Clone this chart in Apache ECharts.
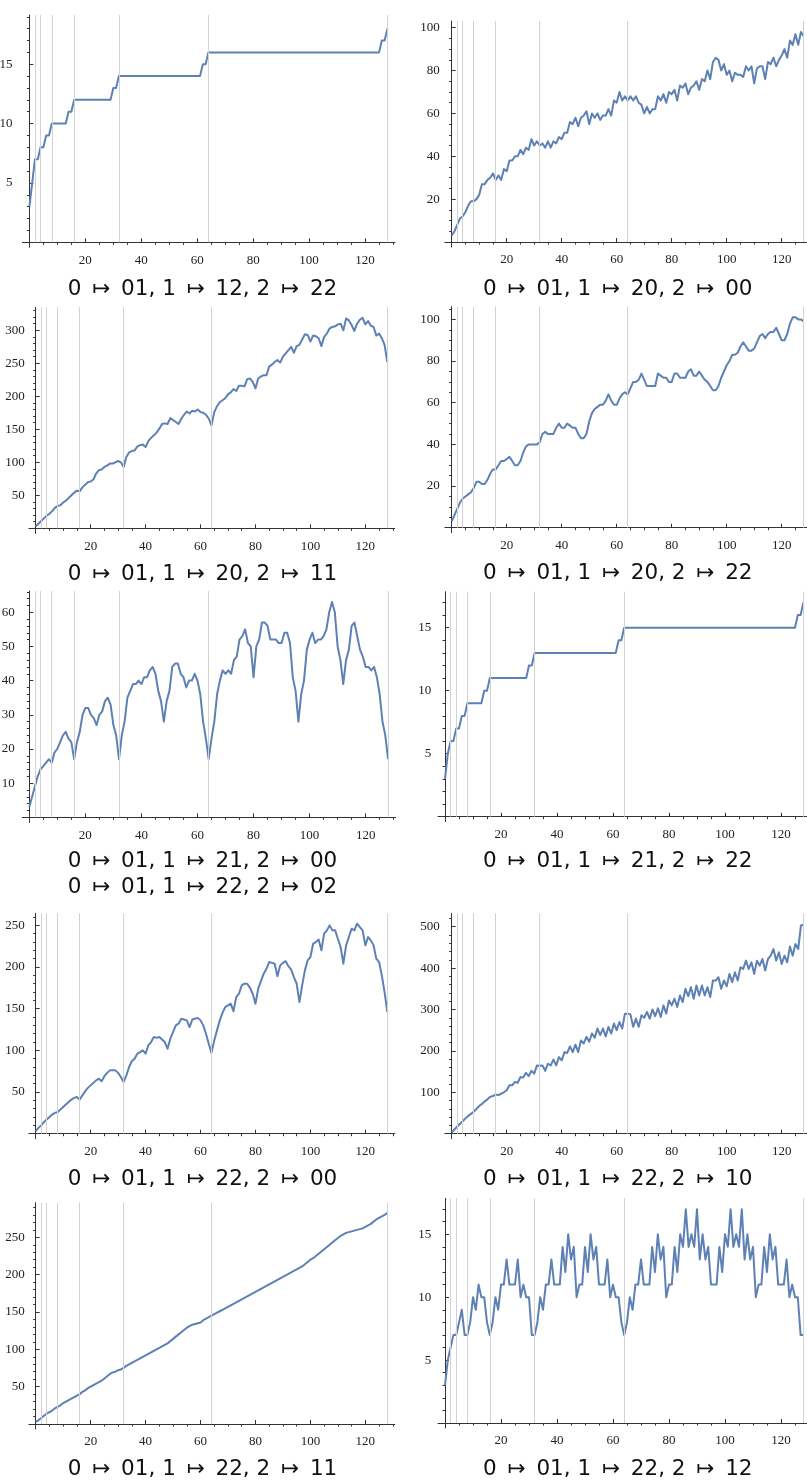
<!DOCTYPE html>
<html>
<head>
<meta charset="utf-8">
<script src="https://cdn.jsdelivr.net/npm/echarts@6/dist/echarts.min.js"></script>
<style>
html,body{margin:0;padding:0;background:#ffffff;}
#c{width:807px;height:1481px;}
</style>
</head>
<body>
<div id="c"></div>
<script>
// ---------------- DATA ----------------
const titles = [
  ['0 ↦ 01, 1 ↦ 12, 2 ↦ 22'],
  ['0 ↦ 01, 1 ↦ 20, 2 ↦ 00'],
  ['0 ↦ 01, 1 ↦ 20, 2 ↦ 11'],
  ['0 ↦ 01, 1 ↦ 20, 2 ↦ 22'],
  ['0 ↦ 01, 1 ↦ 21, 2 ↦ 00', '0 ↦ 01, 1 ↦ 22, 2 ↦ 02'],
  ['0 ↦ 01, 1 ↦ 21, 2 ↦ 22'],
  ['0 ↦ 01, 1 ↦ 22, 2 ↦ 00'],
  ['0 ↦ 01, 1 ↦ 22, 2 ↦ 10'],
  ['0 ↦ 01, 1 ↦ 22, 2 ↦ 11'],
  ['0 ↦ 01, 1 ↦ 22, 2 ↦ 12']
];

// values for n = 0 .. 128
const s1 = [
3,5,7,7,8,8,9,9,10,10,
10,10,10,10,11,11,12,12,12,12,
12,12,12,12,12,12,12,12,12,12,
13,13,14,14,14,14,14,14,14,14,
14,14,14,14,14,14,14,14,14,14,
14,14,14,14,14,14,14,14,14,14,
14,14,15,15,16,16,16,16,16,16,
16,16,16,16,16,16,16,16,16,16,
16,16,16,16,16,16,16,16,16,16,
16,16,16,16,16,16,16,16,16,16,
16,16,16,16,16,16,16,16,16,16,
16,16,16,16,16,16,16,16,16,16,
16,16,16,16,16,16,17,17,18];

const s2 = [
3,5,8,11,12,14,17,19,19,20,
22,27,27,29,30,32,29,31,29,34,
33,38,38,40,40,43,41,44,43,48,
45,47,45,46,44,47,44,47,46,49,
48,51,51,56,55,58,54,58,59,61,
55,60,58,60,57,59,59,62,59,66,
65,70,66,68,66,68,66,68,65,64,
60,63,60,62,62,68,66,69,65,70,
69,71,66,73,72,74,69,72,73,75,
71,76,75,80,76,84,86,85,80,83,
78,80,75,79,78,78,77,82,80,82,
74,81,82,82,76,84,83,86,82,85,
87,90,86,94,92,97,92,98,96];

const s3 = [
3,7,11,15,19,22,26,31,34,35,
39,42,46,50,54,57,56,62,66,70,
71,74,83,88,89,93,95,98,98,100,
102,100,93,108,115,117,118,124,126,127,
123,132,137,141,145,151,158,159,158,167,
164,161,158,166,172,177,174,178,177,180,
176,175,172,166,156,176,185,191,194,197,
203,206,211,208,216,216,215,226,227,222,
212,227,230,232,232,245,248,252,255,251,
260,265,270,275,266,276,278,286,294,293,
283,292,291,288,276,290,295,303,305,306,
309,310,300,318,315,308,299,310,316,319,
309,314,307,305,292,295,288,278,252];

const s4 = [
3,6,9,12,14,15,16,17,19,22,
22,21,21,23,26,28,28,30,32,32,
33,34,32,30,30,32,36,39,40,40,
40,40,41,45,46,45,45,45,48,50,
48,48,50,49,48,48,45,43,43,45,
51,55,57,58,59,59,61,64,61,59,
59,62,64,65,64,67,70,70,71,74,
71,68,68,68,68,74,73,72,72,70,
70,74,74,72,72,72,75,76,73,73,
75,73,71,70,68,66,66,68,72,75,
78,80,83,83,84,87,89,87,85,85,
86,89,92,93,91,93,94,94,96,93,
90,90,93,98,101,101,100,100,99];

const s5 = [
3,6,9,12,14,15,16,17,16,19,
20,22,24,25,23,22,17,22,25,30,
32,32,30,29,27,30,31,34,35,33,
27,24,17,24,28,35,37,39,39,40,
39,41,41,43,44,42,37,34,28,34,
37,44,45,45,42,41,38,40,40,42,
40,36,28,23,17,23,28,36,40,43,
42,43,42,46,47,52,53,55,51,50,
41,50,52,57,57,56,52,52,52,51,
51,54,54,51,41,37,28,36,40,49,
52,54,51,52,52,53,55,60,63,60,
50,46,39,46,49,56,57,53,49,47,
44,44,43,44,41,36,28,24,17];

const s6 = [
3,5,6,6,7,7,8,8,9,9,
9,9,9,9,10,10,11,11,11,11,
11,11,11,11,11,11,11,11,11,11,
12,12,13,13,13,13,13,13,13,13,
13,13,13,13,13,13,13,13,13,13,
13,13,13,13,13,13,13,13,13,13,
13,13,14,14,15,15,15,15,15,15,
15,15,15,15,15,15,15,15,15,15,
15,15,15,15,15,15,15,15,15,15,
15,15,15,15,15,15,15,15,15,15,
15,15,15,15,15,15,15,15,15,15,
15,15,15,15,15,15,15,15,15,15,
15,15,15,15,15,15,16,16,17];

const s7 = [
3,7,10,14,17,20,23,25,26,29,
32,35,38,41,43,44,41,46,51,55,
58,61,64,66,63,69,73,76,76,76,
73,68,62,70,80,87,90,96,98,100,
96,106,110,116,115,116,113,110,102,114,
122,130,132,138,137,136,128,137,138,139,
136,130,120,108,97,112,124,136,145,152,
154,156,147,164,168,178,180,180,175,168,
156,174,183,192,198,206,205,204,189,202,
205,207,201,197,188,180,158,178,196,208,
212,228,230,233,220,240,244,250,244,244,
234,224,204,226,236,246,244,252,248,244,
226,236,232,226,210,206,190,170,146];

const s8 = [
3,10,17,24,30,37,43,48,53,60,
67,72,78,83,89,91,95,93,97,100,
105,117,117,125,123,137,136,147,139,152,
145,165,164,165,152,169,165,179,165,185,
177,197,195,211,197,215,197,225,218,234,
222,242,232,254,238,254,235,258,242,266,
250,270,254,290,290,288,258,278,258,286,
280,294,278,300,284,303,282,310,290,322,
310,326,306,334,318,350,332,354,326,358,
334,358,334,354,330,370,370,378,350,370,
356,386,366,390,370,402,398,418,398,414,
386,418,406,422,394,422,430,446,418,438,
410,430,414,452,430,458,446,503,505];

const s9 = [
3,5,8,11,14,16,18,21,23,25,
28,30,32,34,36,38,40,43,45,48,
50,52,54,56,58,61,64,67,69,70,
72,73,75,78,80,82,84,86,88,90,
92,94,96,98,100,102,104,106,108,111,
114,117,120,123,126,129,131,133,134,135,
136,139,141,143,145,147,149,151,153,155,
157,159,161,163,165,167,169,171,173,175,
177,179,181,183,185,187,189,191,193,195,
197,199,201,203,205,207,209,211,214,217,
220,222,225,228,231,234,237,240,243,246,
249,252,254,256,257,258,259,260,261,262,
264,266,268,271,274,276,278,280,283];

const s10 = [
3,5,6,7,7,8,9,7,7,8,
10,9,11,10,10,8,7,8,10,9,
11,11,13,11,11,11,13,10,11,10,
10,7,7,8,10,9,11,11,13,11,
11,11,14,12,15,13,14,10,11,11,
14,12,15,13,14,11,11,11,13,10,
11,10,10,8,7,8,10,9,11,11,
13,11,11,11,14,12,15,13,14,10,
11,11,14,12,15,14,17,14,15,14,
17,13,15,13,14,11,11,11,14,12,
15,14,17,14,15,14,17,13,15,13,
14,10,11,11,14,12,15,13,14,11,
11,11,13,10,11,10,10,7,7];

const seriesValues = [s1, s2, s3, s4, s5, s6, s7, s8, s9, s10];

// tick labels
const xTickLabels = [20, 40, 60, 80, 100, 120];
const xMinorTicks = [5,10,15,25,30,35,45,50,55,65,70,75,85,90,95,105,110,115,125,130];
const yTickLabels = [
  [5, 10, 15],
  [20, 40, 60, 80, 100],
  [50, 100, 150, 200, 250, 300],
  [20, 40, 60, 80, 100],
  [10, 20, 30, 40, 50, 60],
  [5, 10, 15],
  [50, 100, 150, 200, 250],
  [100, 200, 300, 400, 500],
  [50, 100, 150, 200, 250],
  [5, 10, 15]
];
const yMinorStep = [1, 5, 10, 5, 2, 1, 10, 20, 10, 1];
const guideX = [2, 4, 8, 16, 32, 64, 128];

// ---------------- LAYOUT (pixels) ----------------
const geo = [
  {x0: 29.4,  sx: 2.797, y0: 242.3,  sy: 11.87,  top: 15,     lm: 10,  tx: 202.5, ty: [287.5]},
  {x0: 451.7, sx: 2.75,  y0: 242.0,  sy: 2.143,  top: 21,     lm: 5,   tx: 617.8, ty: [287.5]},
  {x0: 35.7,  sx: 2.747, y0: 528.3,  sy: 0.66,   top: 307.3,  lm: 4,   tx: 202.5, ty: [573.3]},
  {x0: 451.7, sx: 2.75,  y0: 527.7,  sy: 2.083,  top: 306.7,  lm: 5,   tx: 617.8, ty: [571.7]},
  {x0: 29.3,  sx: 2.803, y0: 817.3,  sy: 3.417,  top: 591,    lm: 7.5, tx: 202.5, ty: [860, 886]},
  {x0: 445.0, sx: 2.8,   y0: 816.7,  sy: 12.6,   top: 591.7,  lm: 6.7, tx: 617.8, ty: [860]},
  {x0: 35.7,  sx: 2.747, y0: 1133.7, sy: 0.8333, top: 913.3,  lm: 4,   tx: 202.5, ty: [1178]},
  {x0: 451.7, sx: 2.75,  y0: 1133.7, sy: 0.414,  top: 913.3,  lm: 5,   tx: 617.8, ty: [1178]},
  {x0: 35.7,  sx: 2.747, y0: 1424,   sy: 0.7467, top: 1202.7, lm: 4,   tx: 202.5, ty: [1468]},
  {x0: 445.0, sx: 2.8,   y0: 1423,   sy: 12.58,  top: 1198.3, lm: 6.7, tx: 617.8, ty: [1468]}
];
const XMIN = -2.5, XMAX = 130.7, BELOW = 5;

const LINE = '#5E81B5', AXIS = '#333333', GUIDE = '#d2d2d2';
const TICKFONT = 'Liberation Serif';
const TITLEFONT = '"DejaVu Sans"';

function minorTicks(step, max, majors) {
  const out = [];
  for (let v = step; v <= max + 1e-9; v += step) {
    const r = Math.round(v * 1000) / 1000;
    if (majors.indexOf(r) < 0) out.push(r);
  }
  return out;
}

const grids = [], xAxes = [], yAxes = [], series = [], graphics = [];
geo.forEach((g, i) => {
  const ymax = (g.y0 - g.top) / g.sy;
  const ymin = -BELOW / g.sy;
  grids.push({
    left: g.x0 + XMIN * g.sx,
    width: (XMAX - XMIN) * g.sx,
    top: g.top,
    height: g.y0 + BELOW - g.top,
    containLabel: false,
    outerBoundsMode: 'none'
  });
  const xi = xAxes.length, yi = yAxes.length;
  xAxes.push({
    type: 'value', gridIndex: i, min: XMIN, max: XMAX,
    axisLine: {show: true, onZero: true, onZeroAxisIndex: yi, lineStyle: {color: AXIS, width: 1}},
    axisTick: {show: true, inside: true, length: 4, customValues: xTickLabels, lineStyle: {color: AXIS, width: 1}},
    axisLabel: {show: true, customValues: xTickLabels, margin: 6.5, fontFamily: TICKFONT, fontSize: 13, color: '#222'},
    splitLine: {show: false}
  });
  xAxes.push({
    type: 'value', gridIndex: i, min: XMIN, max: XMAX,
    axisLine: {show: true, onZero: true, onZeroAxisIndex: yi, lineStyle: {color: AXIS, opacity: 0}},
    axisTick: {show: true, inside: true, length: 2.5, customValues: xMinorTicks, lineStyle: {color: AXIS, width: 1}},
    axisLabel: {show: false},
    splitLine: {show: false}
  });
  const yMinor = minorTicks(yMinorStep[i], ymax, yTickLabels[i]);
  yAxes.push({
    type: 'value', gridIndex: i, min: ymin, max: ymax,
    axisLine: {show: true, onZero: true, onZeroAxisIndex: xi, lineStyle: {color: AXIS, width: 1}},
    axisTick: {show: true, inside: true, length: 4, customValues: yTickLabels[i], lineStyle: {color: AXIS, width: 1}},
    axisLabel: {show: true, customValues: yTickLabels[i], margin: g.lm, fontFamily: TICKFONT, fontSize: 13, color: '#222'},
    splitLine: {show: false}
  });
  yAxes.push({
    type: 'value', gridIndex: i, min: ymin, max: ymax,
    axisLine: {show: true, onZero: true, onZeroAxisIndex: xi, lineStyle: {color: AXIS, opacity: 0}},
    axisTick: {show: true, inside: true, length: 2.5, customValues: yMinor, lineStyle: {color: AXIS, width: 1}},
    axisLabel: {show: false},
    splitLine: {show: false}
  });
  series.push({
    type: 'line', xAxisIndex: xi, yAxisIndex: yi, z: 1,
    data: guideX.map(v => [v, 0]), showSymbol: false, silent: true,
    lineStyle: {opacity: 0},
    markLine: {
      silent: true, symbol: ['none', 'none'], label: {show: false},
      lineStyle: {color: GUIDE, width: 1, type: 'solid'},
      animation: false,
      data: guideX.map(v => [{coord: [v, 0]}, {coord: [v, ymax]}])
    }
  });
  series.push({
    type: 'line', xAxisIndex: xi, yAxisIndex: yi, z: 3,
    data: seriesValues[i].map((v, n) => [n, v]),
    showSymbol: false, silent: true,
    lineStyle: {color: LINE, width: 2, join: 'round'}
  });
  titles[i].forEach((t, k) => {
    // widen the space around each arrow with rich-text padding
    const rt = t.split('↦').join('{a|↦}');
    graphics.push({
      type: 'text', x: g.tx, y: g.ty[k] + 1.5, silent: true,
      style: {
        text: rt, fill: '#111', font: '21.5px ' + TITLEFONT,
        align: 'center', verticalAlign: 'middle',
        rich: {a: {padding: [0, 4, 0, 4], font: '21.5px ' + TITLEFONT, fill: '#111'}}
      }
    });
  });
});

const chart = echarts.init(document.getElementById('c'), null, {renderer: 'canvas'});
chart.setOption({
  animation: false,
  backgroundColor: '#ffffff',
  grid: grids,
  xAxis: xAxes,
  yAxis: yAxes,
  series: series,
  graphic: graphics
});
</script>
</body>
</html>
